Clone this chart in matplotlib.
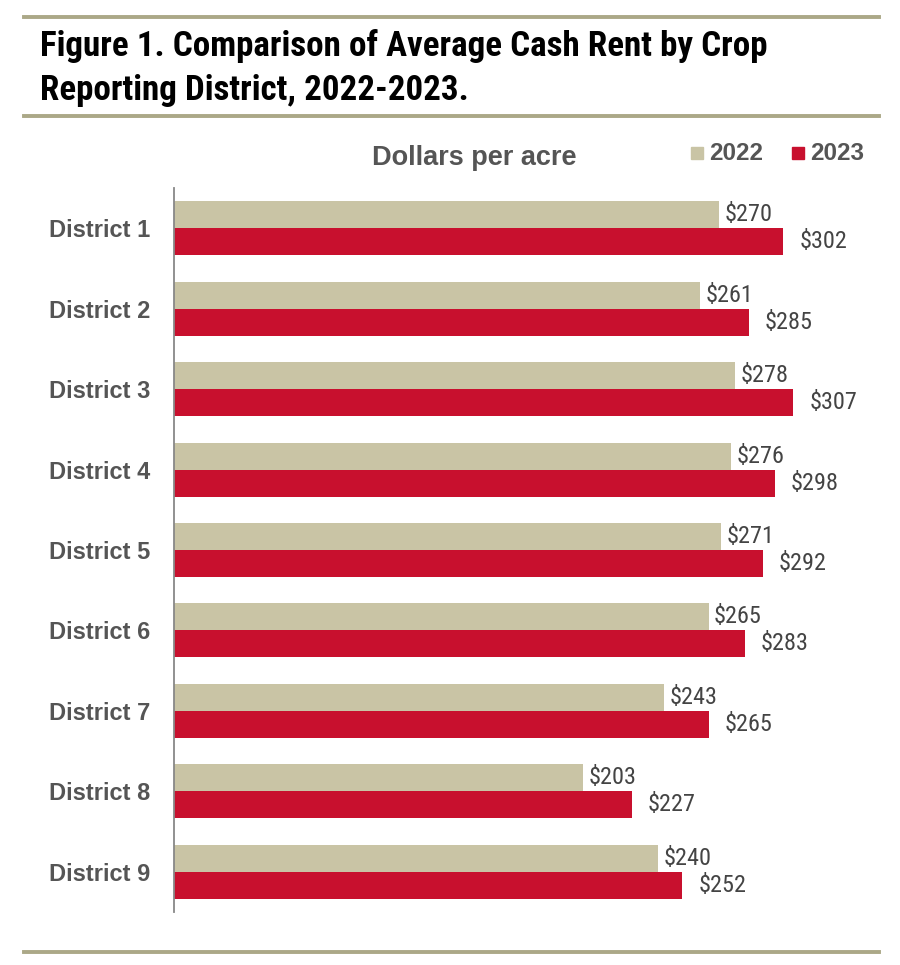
import matplotlib
matplotlib.use("Agg")
import matplotlib.pyplot as plt
from matplotlib.lines import Line2D
from matplotlib.patches import Rectangle
import numpy as np

districts = ["District 1", "District 2", "District 3", "District 4", "District 5",
             "District 6", "District 7", "District 8", "District 9"]
rent_2022 = [270, 261, 278, 276, 271, 265, 243, 203, 240]
rent_2023 = [302, 285, 307, 298, 292, 283, 265, 227, 252]

COND = ["Roboto Condensed", "DejaVu Sans"]
SANS = ["Liberation Sans", "DejaVu Sans"]
BEIGE = "#C9C4A5"
RED = "#C8102E"
GRAY = "#555555"
RULE = "#ABA887"

W, H = 900, 965
fig = plt.figure(figsize=(W / 100, H / 100), dpi=100)

def fx(px):
    return px / W

def fy(py):
    return 1 - py / H

# horizontal rules
for yy in (17, 116, 952):
    fig.add_artist(Line2D([fx(24), fx(879)], [fy(yy), fy(yy)], color=RULE, lw=2.8,
                          transform=fig.transFigure))

fig.text(fx(40), fy(56), "Figure 1. Comparison of Average Cash Rent by Crop",
         family=COND, weight="bold", fontsize=25.2, color="black", va="baseline")
fig.text(fx(40), fy(100), "Reporting District, 2022-2023.",
         family=COND, weight="bold", fontsize=25.2, color="black", va="baseline")

ax = fig.add_axes([fx(174), fy(912), 706 / W, 724 / H])
y = np.arange(len(districts))
h = 0.335
ax.barh(y - h / 2, rent_2022, height=h, color=BEIGE)
ax.barh(y + h / 2, rent_2023, height=h, color=RED)
ax.set_xlim(0, 350)
ax.set_ylim(len(districts) - 0.5, -0.5)

for i in range(len(districts)):
    ax.annotate(f"${rent_2022[i]}", (rent_2022[i], y[i] - h / 2), xytext=(4, 0),
                textcoords="offset points", va="center", ha="left",
                family=COND, fontsize=17.5, color="#444444")
    ax.annotate(f"${rent_2023[i]}", (rent_2023[i], y[i] + h / 2), xytext=(11.5, 0),
                textcoords="offset points", va="center", ha="left",
                family=COND, fontsize=17.5, color="#444444")

ax.set_yticks(y)
ax.set_yticklabels(districts, family=SANS, weight="bold", fontsize=17, color=GRAY)
ax.tick_params(axis="y", length=0, pad=17)
ax.set_xticks([])
for s in ("top", "right", "bottom"):
    ax.spines[s].set_visible(False)
ax.spines["left"].set_color("#888888")
ax.spines["left"].set_linewidth(1.3)

fig.text(fx(372), fy(158), "Dollars per acre", family=SANS, weight="bold",
         fontsize=19.5, color=GRAY, va="center")
fig.add_artist(Rectangle((fx(691), fy(159)), 12 / W, 12 / H, color=BEIGE,
                         transform=fig.transFigure))
fig.text(fx(709), fy(153), "2022", family=SANS, weight="bold", fontsize=17.5,
         color=GRAY, va="center")
fig.add_artist(Rectangle((fx(792), fy(159)), 12 / W, 12 / H, color=RED,
                         transform=fig.transFigure))
fig.text(fx(810), fy(153), "2023", family=SANS, weight="bold", fontsize=17.5,
         color=GRAY, va="center")

fig.savefig("out.png", dpi=100)
